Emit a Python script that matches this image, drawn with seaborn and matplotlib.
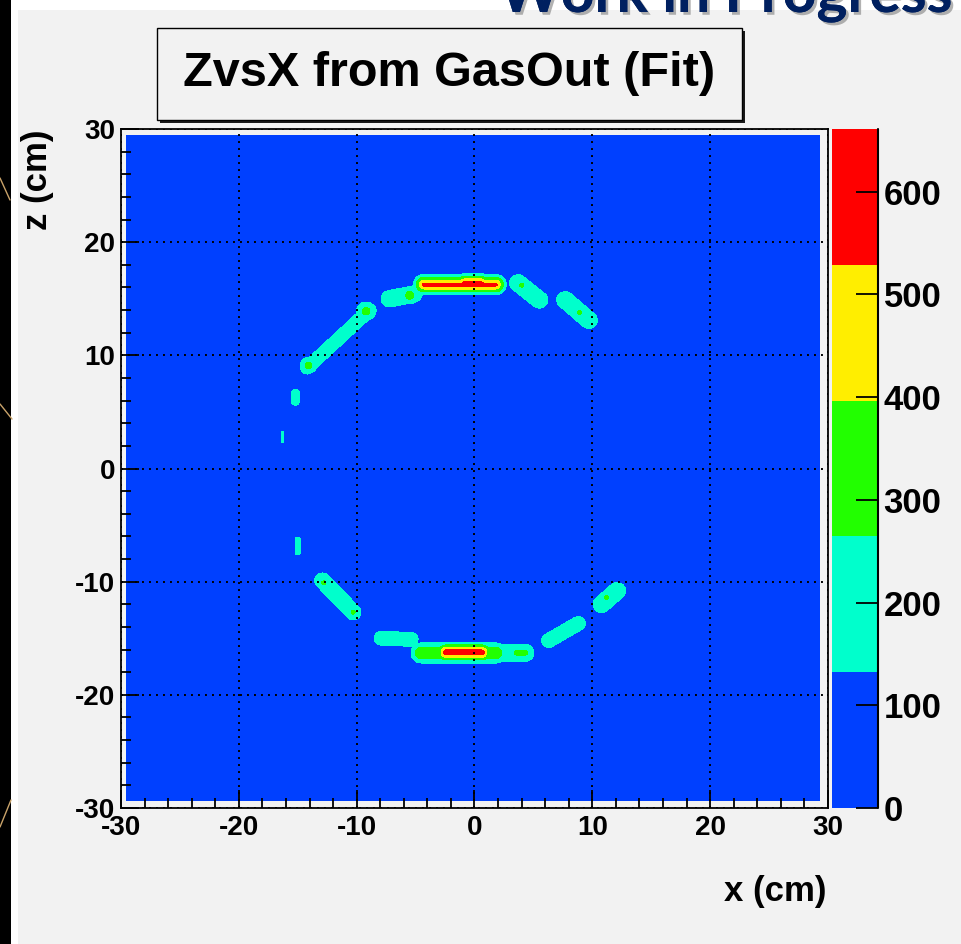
import numpy as np
import matplotlib
matplotlib.use("Agg")
import matplotlib.pyplot as plt
import seaborn as sns
from matplotlib.patches import Rectangle
from matplotlib.lines import Line2D
from matplotlib.ticker import MultipleLocator
import matplotlib.patheffects as pe

# ---------------- data ----------------
title = "ZvsX from GasOut (Fit)"
banner = "Work in Progress"
x_label = "x (cm)"
z_label = "z (cm)"
axis_ticks = [-30, -20, -10, 0, 10, 20, 30]
cbar_ticks = [0, 100, 200, 300, 400, 500, 600]
z_max = 661
n_levels = 5
level_colors = ["#0040ff", "#00ffcc", "#22ff00", "#ffee00", "#ff0000"]
hist_x_range = [-29.5, 29.25]
hist_z_range = [-29.35, 29.4]

# ridge pieces of the fitted distribution (x1,z1)->(x2,z2), peak counts, half-width in cm, profile power
seg_x1 = [-4.3, -0.8, -7.2, -5.5, 3.7, 4.0, 7.7, 8.9, -14.2, -9.2, -14.1, -15.2, -16.3, -15.0,
          -12.9, -12.8, -10.3, 10.8, 11.2, -7.9, -4.5, 1.8, 3.6, -2.4, 6.3]
seg_z1 = [16.25, 16.3, 15.0, 15.3, 16.4, 16.2, 14.9, 13.8, 8.9, 13.9, 9.1, 5.9, 2.4, -6.3,
          -9.9, -10.1, -12.7, -12.0, -11.4, -15.0, -16.3, -16.3, -16.3, -16.25, -15.2]
seg_x2 = [1.8, 0.5, -5.2, -5.5, 5.5, 4.0, 9.7, 8.9, -8.9, -9.2, -14.1, -15.2, -16.3, -15.0,
          -10.3, -12.8, -10.3, 12.1, 11.2, -5.4, 1.8, 4.3, 4.3, 0.6, 8.8]
seg_z2 = [16.25, 16.3, 15.4, 15.3, 14.9, 16.2, 13.1, 13.8, 14.0, 13.9, 9.1, 6.7, 3.2, -7.4,
          -12.7, -10.1, -12.7, -10.8, -11.4, -15.1, -16.3, -16.3, -16.3, -16.25, -13.7]
seg_peak = [600, 661, 220, 300, 220, 290, 220, 290, 200, 290, 290, 200, 150, 180,
            210, 290, 290, 220, 290, 200, 330, 230, 300, 661, 200]
seg_width = [1.15, 1.15, 1.15, 1.0, 1.15, 0.6, 1.15, 0.6, 0.95, 1.1, 0.95, 0.55, 0.3, 0.45,
             1.1, 0.6, 0.6, 1.15, 0.6, 1.05, 1.15, 1.15, 0.6, 1.1, 1.05]
seg_power = [1, 1, 2, 2, 2, 2, 2, 2, 2, 2, 2, 2, 2, 2,
             2, 2, 2, 2, 2, 2, 2, 2, 2, 1, 2]

# ---------------- style ----------------
sns.set_theme(style="ticks")
plt.rcParams["font.family"] = ["Liberation Sans", "DejaVu Sans"]
plt.rcParams["font.weight"] = "bold"
plt.rcParams["axes.axisbelow"] = False
plt.rcParams["axes.unicode_minus"] = False
plt.rcParams["text.color"] = "black"
plt.rcParams["xtick.color"] = "black"
plt.rcParams["ytick.color"] = "black"
plt.rcParams["xtick.labelcolor"] = "black"
plt.rcParams["ytick.labelcolor"] = "black"
BG = "#f2f2f2"
W, H = 961, 944

def fx(px):
    return px / W

def fy(py):
    return 1 - py / H

fig = plt.figure(figsize=(W / 100, H / 100), dpi=100, facecolor=BG)

# slide decorations
fig.add_artist(Rectangle((0, 0), fx(11), 1, transform=fig.transFigure, fc="black", ec="none", zorder=0))
fig.add_artist(Rectangle((fx(11), 0), fx(7), 1, transform=fig.transFigure, fc="white", ec="none", zorder=0))
fig.add_artist(Rectangle((fx(11), fy(10)), 1, 10 / H, transform=fig.transFigure, fc="white", ec="none", zorder=0))
for (xa, ya, xb, yb) in [(0, 178, 10, 200), (0, 404, 12, 419), (11, 800, 0, 827)]:
    fig.add_artist(Line2D([fx(xa), fx(xb)], [fy(ya), fy(yb)], transform=fig.transFigure,
                          color="#c9a36a", lw=1.0))

# ---------------- field ----------------
xs = np.linspace(hist_x_range[0], hist_x_range[1], 600)
zs = np.linspace(hist_z_range[0], hist_z_range[1], 600)
X, Z = np.meshgrid(xs, zs)
field = np.zeros_like(X)
for x1, z1, x2, z2, P, w, k in zip(seg_x1, seg_z1, seg_x2, seg_z2, seg_peak, seg_width, seg_power):
    dx, dz = x2 - x1, z2 - z1
    L2 = dx * dx + dz * dz
    t = 0.0 if L2 == 0 else np.clip(((X - x1) * dx + (Z - z1) * dz) / L2, 0, 1)
    d = np.hypot(X - (x1 + t * dx), Z - (z1 + t * dz))
    field = np.maximum(field, P * np.clip(1 - (d / w) ** k, 0, None))
field = np.minimum(field, z_max - 0.5)
levels = np.linspace(0, z_max, n_levels + 1)

# ---------------- main axes ----------------
ax = fig.add_axes([fx(121), fy(808), (828 - 121) / W, (808 - 129) / H])
ax.set_facecolor(BG)
palette = sns.color_palette(level_colors)
cf = ax.contourf(X, Z, field, levels=levels, colors=palette)
ax.set_xlim(-30, 30)
ax.set_ylim(-30, 30)
ax.set_xticks(axis_ticks)
ax.set_yticks(axis_ticks)
ax.xaxis.set_minor_locator(MultipleLocator(2))
ax.yaxis.set_minor_locator(MultipleLocator(2))
ax.tick_params(which="both", direction="in", top=False, right=False, color="black", width=1.3)
ax.tick_params(which="major", length=13, labelsize=20, labelcolor="black")
ax.tick_params(which="minor", length=7)
ax.tick_params(axis="x", which="major", pad=5)
ax.tick_params(axis="y", which="major", pad=4)
for lab in ax.get_xticklabels() + ax.get_yticklabels():
    lab.set_fontweight("bold")
ax.grid(True, which="major", color="black", linestyle=(0, (1, 2.6)), linewidth=1.4)
for s in ax.spines.values():
    s.set_color("black")
    s.set_linewidth(1.3)
    s.set_visible(True)

fig.text(fx(38), fy(129), z_label, rotation=90, ha="center", va="top", fontsize=25, fontweight="bold",
         color="black")
fig.text(fx(827), fy(891), x_label, ha="right", va="center", fontsize=25, fontweight="bold", color="black")

# ---------------- colour bar ----------------
cax = fig.add_axes([fx(832), fy(808), (878 - 832) / W, (808 - 129) / H])
cb = fig.colorbar(cf, cax=cax, ticks=cbar_ticks)
cb.outline.set_visible(False)
cax.yaxis.set_ticks_position("right")
cax.tick_params(direction="in", length=16, width=1.3, labelsize=25, pad=4, color="black", labelcolor="black")
for lab in cax.get_yticklabels():
    lab.set_fontweight("bold")
cax.plot([1, 1], [0, 1], transform=cax.transAxes, color="black", lw=1.5, clip_on=False)

# ---------------- title box ----------------
fig.add_artist(Rectangle((fx(160), fy(123)), (742 - 157) / W, (120 - 28) / H, transform=fig.transFigure,
                         fc="#1a1a1a", ec="none", zorder=2))
fig.add_artist(Rectangle((fx(157), fy(120)), (742 - 157) / W, (120 - 28) / H, transform=fig.transFigure,
                         fc=BG, ec="black", lw=1.0, zorder=3))
fig.text(fx(449), fy(74), title, ha="center", va="center", fontsize=35, fontweight="bold", color="black",
         zorder=4)

# ---------------- banner ----------------
bt = fig.text(fx(953), fy(12), banner, ha="right", va="baseline", color="#002060", fontsize=40,
              fontweight="bold", family=["Lato", "DejaVu Sans"],
              path_effects=[pe.withSimplePatchShadow(offset=(2, -2), shadow_rgbFace="#7f7f7f", alpha=0.6),
                            pe.Normal()])
fig.canvas.draw()
wpx = bt.get_window_extent().width
bt.set_fontsize(40 * 453 / wpx)

fig.savefig("out.png", dpi=100, facecolor=BG)
